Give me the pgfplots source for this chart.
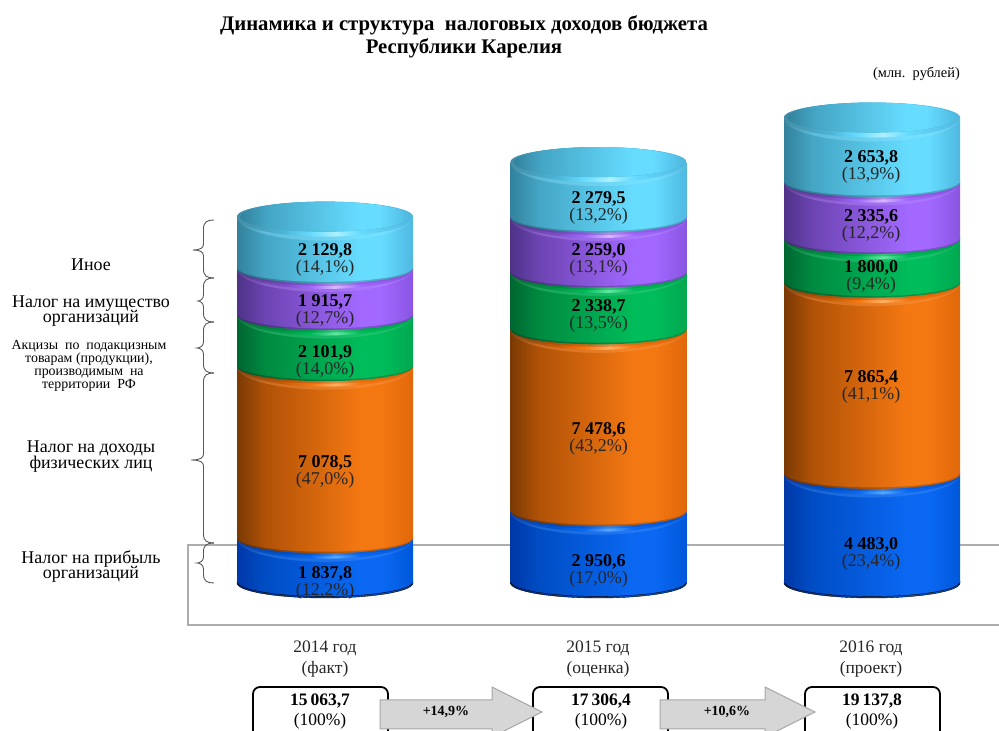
\documentclass[border=0pt]{standalone}
\usepackage{pgfplots}
\pgfplotsset{compat=1.18}
\usepackage{fontspec}
\setmainfont{Liberation Serif}
\usepackage{xcolor}

% name, left, inner, bright, right, highlight
\newcommand{\defset}[6]{%
  \definecolor{#1a}{HTML}{#2}\definecolor{#1b}{HTML}{#3}\definecolor{#1c}{HTML}{#4}\definecolor{#1d}{HTML}{#5}\definecolor{#1h}{HTML}{#6}%
  \pgfdeclarehorizontalshading{#1body}{100bp}{color(0bp)=(#1a);color(25bp)=(#1a);color(33bp)=(#1b!70!#1a);color(60bp)=(#1c);color(66bp)=(#1c);color(75bp)=(#1d);color(100bp)=(#1d)}%
  \pgfdeclarehorizontalshading{#1rimA}{100bp}{color(0bp)=(#1a!90!white);color(25bp)=(#1a!90!white);color(33bp)=(#1b!90!white);color(60bp)=(#1c!90!white);color(66bp)=(#1c!90!white);color(75bp)=(#1d!90!white);color(100bp)=(#1d!90!white)}%
  \pgfdeclarehorizontalshading{#1rimB}{100bp}{color(0bp)=(#1a!92!white);color(25bp)=(#1a!92!white);color(38bp)=(#1b);color(46bp)=(#1c);color(53bp)=(#1h);color(60bp)=(#1c);color(75bp)=(#1d);color(100bp)=(#1d)}%
  \pgfdeclarehorizontalshading{#1dark}{100bp}{color(0bp)=(#1a!85!black);color(25bp)=(#1a!85!black);color(60bp)=(#1c!80!black);color(75bp)=(#1d!85!black);color(100bp)=(#1d!85!black)}%
}
\defset{B}{0038A8}{0056D0}{0A68F2}{0058DA}{55A8FF}
\defset{O}{7A3A04}{C85C08}{F47812}{E0680A}{FFB060}
\defset{G}{006630}{009A48}{00BC5A}{00A850}{60E8A0}
\defset{P}{4E3288}{7A4CC4}{A268FF}{8A55E2}{D8B8FF}
\defset{C}{32829C}{4CB4D6}{66DCFF}{4FB8E0}{B0F0FF}

\newcommand{\rimpart}[1]{%
  \shade[shading=#1rimA] (0pt,0pt) ellipse [x radius=88pt,y radius=23.5pt];
  \shade[shading=#1rimB] (0pt,0pt) ellipse [x radius=88pt,y radius=20.5pt];
  \shade[shading=#1dark,opacity=0.4] (0pt,0pt) ellipse [x radius=88pt,y radius=17.5pt];
}
\newcommand{\botpart}[1]{%
  \shade[shading=#1dark] (0pt,0pt) ellipse [x radius=88pt,y radius=15pt];
  \shade[shading=#1body] (0pt,1.4pt) ellipse [x radius=88pt,y radius=14.8pt];
}
\pgfdeclareplotmark{mB}{\botpart{B}}
\pgfdeclareplotmark{mO}{\rimpart{B}\botpart{O}}
\pgfdeclareplotmark{mG}{\rimpart{O}\botpart{G}}
\pgfdeclareplotmark{mP}{\rimpart{G}\botpart{P}}
\pgfdeclareplotmark{mC}{\rimpart{P}\botpart{C}}
\pgfdeclareplotmark{mT}{%
  \shade[shading=CrimA] (-88pt,0pt) arc[start angle=180,end angle=360,x radius=88pt,y radius=24pt] arc[start angle=0,end angle=180,x radius=88pt,y radius=15pt] -- cycle;
  \shade[shading=CrimB] (-88pt,0pt) arc[start angle=180,end angle=360,x radius=88pt,y radius=20pt] arc[start angle=0,end angle=180,x radius=88pt,y radius=15pt] -- cycle;
  \fill[color={rgb,255:red,75;green,161;blue,194}] (0pt,0pt) ellipse [x radius=85pt,y radius=15pt];
}

\pgfplotsset{
  frame/.style={
    at={(0pt,0pt)},anchor=south west,
    scale only axis,width=999pt,height=731pt,
    xmin=0,xmax=999,ymin=-6085.5,ymax=23972,
    hide axis,clip=false},
  cyl/.style={frame,ybar stacked,bar width=176pt},
  hid/.style={draw=none,fill=none,mark=none},
  s1/.style={hid},s2/.style={hid},s3/.style={hid},s4/.style={hid},s5/.style={hid},
}

% one layer of a column: the five stacked values, one of them visible
\newcommand{\layer}[7]{%
\begin{axis}[cyl,#7]
\addplot[s1] coordinates {(#1,#2)};
\addplot[s2] coordinates {(#1,#3)};
\addplot[s3] coordinates {(#1,#4)};
\addplot[s4] coordinates {(#1,#5)};
\addplot[s5] coordinates {(#1,#6)};
\end{axis}}
\newcommand{\column}[6]{%
\begin{axis}[frame]
\addplot[only marks,mark=mB] coordinates {(#1,0)};
\end{axis}
\layer{#1}{#2}{#3}{#4}{#5}{#6}{s1/.style={draw=none,shade,shading=Bbody,mark=mO}}
\layer{#1}{#2}{#3}{#4}{#5}{#6}{s2/.style={draw=none,shade,shading=Obody,mark=mG}}
\layer{#1}{#2}{#3}{#4}{#5}{#6}{s3/.style={draw=none,shade,shading=Gbody,mark=mP}}
\layer{#1}{#2}{#3}{#4}{#5}{#6}{s4/.style={draw=none,shade,shading=Pbody,mark=mC}}
\layer{#1}{#2}{#3}{#4}{#5}{#6}{s5/.style={draw=none,shade,shading=Cbody,mark=mT}}
}

\newcommand{\vv}[4]{%
  \node[anchor=base,inner sep=0pt,font=\fontsize{18}{18}\selectfont\bfseries] at (#1,{#2+6.5}) {#3};
  \node[anchor=base,inner sep=0pt,text=black!85,font=\fontsize{18}{18}\selectfont] at (#1,{#2+23.5}) {#4};
}
\newcommand{\br}[4]{% ytop, ybot, ymid, tipx
  \draw[color=black!65,line width=0.9pt] (214,#1) .. controls (207,#1) and (203.5,{#1+2}) .. (203.5,{#1+9}) -- (203.5,{#3-6}) .. controls (203.5,{#3-2}) and (200,#3) .. (#4,#3) .. controls (200,#3) and (203.5,{#3+2}) .. (203.5,{#3+6}) -- (203.5,{#2-9}) .. controls (203.5,{#2-2}) and (207,#2) .. (214,#2);
}
\newcommand{\arrowp}[5]{% xl, xhead, xtip
  \draw[color=black!35,fill=black!16,line width=1pt] (#1,700) -- (#2,700) -- (#2,687) -- (#3,712) -- (#2,737) -- (#2,729) -- (#1,729) -- cycle;
  \node[font=\fontsize{14}{14}\selectfont\bfseries,inner sep=0pt] at (#4,712) {#5};
}

\begin{document}
\begin{tikzpicture}
\begin{scope}[x=1pt,y=-1pt,shift={(0,731pt)}]
  \draw[color=black!32,line width=1.2pt] (999,545) -- (188,545) -- (188,625) -- (999,625);
\end{scope}

\column{325}{1837.8}{7078.5}{2101.9}{1915.7}{2129.8}
\column{598.5}{2950.6}{7478.6}{2338.7}{2259.0}{2279.5}
\column{872}{4483.0}{7865.4}{1800.0}{2335.6}{2653.8}

\begin{scope}[x=1pt,y=-1pt,shift={(0,731pt)}]
  \clip (0,0) rectangle (999,731);
  % title
  \node[anchor=base,inner sep=0pt,font=\fontsize{20.75}{20}\selectfont\bfseries] at (464,31) {Динамика и структура\ \ налоговых доходов бюджета};
  \node[anchor=base,inner sep=0pt,font=\fontsize{20.75}{20}\selectfont\bfseries] at (464,54) {Республики Карелия};
  \node[anchor=base east,inner sep=0pt,font=\fontsize{14.4}{14}\selectfont] at (960,77.5) {(млн.\ \ рублей)};

  % left labels
  \foreach \yy/\tt in {271/Иное,308/Налог на имущество,323/организаций,453/Налог на доходы,469/физических лиц,564/Налог на прибыль,579/организаций}
    {\node[anchor=base,inner sep=0pt,font=\fontsize{17.9}{17}\selectfont] at (91,\yy) {\tt};}
  \foreach \yy/\tt in {350/{Акцизы\ \ по\ \ подакцизным},363/{товарам (продукции),},376/{производимым\ \ на},389/{территории\ \ РФ}}
    {\node[anchor=base,inner sep=0pt,font=\fontsize{13.9}{13}\selectfont] at (89,\yy) {\tt};}

  \br{220}{278}{250}{193}
  \br{278}{322}{301}{198}
  \br{322}{373}{348}{197}
  \br{373}{543}{460}{191}
  \br{543}{583}{563}{197}

  % values
  \vv{325}{249}{2 129,8}{(14,1\%)}
  \vv{325}{300}{1 915,7}{(12,7\%)}
  \vv{325}{351}{2 101,9}{(14,0\%)}
  \vv{325}{461}{7 078,5}{(47,0\%)}
  \vv{325}{572}{1 837,8}{(12,2\%)}
  \vv{598.5}{197}{2 279,5}{(13,2\%)}
  \vv{598.5}{249}{2 259,0}{(13,1\%)}
  \vv{598.5}{305}{2 338,7}{(13,5\%)}
  \vv{598.5}{428}{7 478,6}{(43,2\%)}
  \vv{598.5}{560}{2 950,6}{(17,0\%)}
  \vv{871}{156}{2 653,8}{(13,9\%)}
  \vv{871}{215}{2 335,6}{(12,2\%)}
  \vv{871}{266}{1 800,0}{(9,4\%)}
  \vv{871}{376}{7 865,4}{(41,1\%)}
  \vv{871}{543}{4 483,0}{(23,4\%)}

  % years
  \foreach \xx/\aa/\bb in {325/2014 год/(факт),598/2015 год/(оценка),871/2016 год/(проект)}{
    \node[anchor=base,inner sep=0pt,font=\fontsize{17.5}{17.5}\selectfont,text=black!85] at (\xx,653) {\aa};
    \node[anchor=base,inner sep=0pt,font=\fontsize{17.5}{17.5}\selectfont,text=black!85] at (\xx,674) {\bb};
  }

  % totals
  \foreach \xl/\xr/\cc/\vvv in {253/388/320/{15\,063,7},533/668/601/{17\,306,4},805/940/872/{19\,137,8}}{
    \draw[line width=1.8pt,rounded corners=7pt] (\xl,750) -- (\xl,687) -- (\xr,687) -- (\xr,750);
    \node[anchor=base,inner sep=0pt,font=\fontsize{17.5}{17.5}\selectfont\bfseries] at (\cc,706) {\vvv};
    \node[anchor=base,inner sep=0pt,font=\fontsize{17.5}{17.5}\selectfont] at (\cc,726) {(100\%)};
  }
  \arrowp{380}{492}{542}{446}{+14,9\%}
  \arrowp{660}{765}{815}{727}{+10,6\%}
\end{scope}
\pgfresetboundingbox
\path[use as bounding box] (0,0) rectangle (999pt,731pt);
\end{tikzpicture}
\end{document}
